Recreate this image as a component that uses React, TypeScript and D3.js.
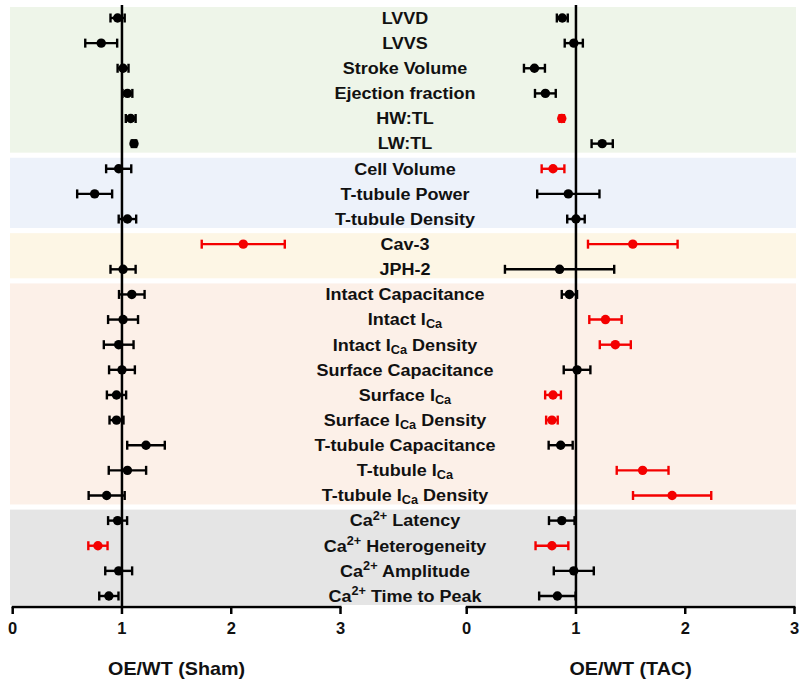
import React from "react";
import * as d3 from "d3";

const labels = [
  "LVVD", "LVVS", "Stroke Volume", "Ejection fraction", "HW:TL", "LW:TL",
  "Cell Volume", "T-tubule Power", "T-tubule Density",
  "Cav-3", "JPH-2",
  "Intact Capacitance", "Intact I_{Ca}", "Intact I_{Ca} Density", "Surface Capacitance",
  "Surface I_{Ca}", "Surface I_{Ca} Density", "T-tubule Capacitance", "T-tubule I_{Ca}", "T-tubule I_{Ca} Density",
  "Ca^{2+} Latency", "Ca^{2+} Heterogeneity", "Ca^{2+} Amplitude", "Ca^{2+} Time to Peak",
];

const shamMean = [0.96, 0.81, 1.01, 1.05, 1.08, 1.11, 0.97, 0.75, 1.05, 2.11, 1.01,
  1.09, 1.01, 0.97, 1.0, 0.95, 0.95, 1.22, 1.05, 0.86, 0.96, 0.78, 0.97, 0.88];
const shamErr = [0.065, 0.146, 0.05, 0.045, 0.045, 0.02, 0.115, 0.16, 0.08, 0.38, 0.115,
  0.117, 0.137, 0.136, 0.118, 0.088, 0.064, 0.172, 0.171, 0.165, 0.087, 0.088, 0.123, 0.088];
const shamSig = [0, 0, 0, 0, 0, 0, 0, 0, 0, 1, 0, 0, 0, 0, 0, 0, 0, 0, 0, 0, 0, 1, 0, 0];

const tacMean = [0.875, 0.98, 0.62, 0.72, 0.87, 1.24, 0.79, 0.93, 1.0, 1.52, 0.85,
  0.94, 1.27, 1.36, 1.01, 0.79, 0.78, 0.86, 1.61, 1.88, 0.87, 0.78, 0.98, 0.83];
const tacErr = [0.05, 0.083, 0.096, 0.095, 0.02, 0.097, 0.104, 0.285, 0.08, 0.41, 0.5,
  0.07, 0.148, 0.142, 0.122, 0.072, 0.053, 0.11, 0.237, 0.358, 0.117, 0.15, 0.183, 0.167];
const tacSig = [0, 0, 0, 0, 1, 0, 1, 0, 0, 1, 0, 0, 1, 1, 0, 1, 1, 0, 1, 1, 0, 1, 0, 0];

const bandStart = [0, 6, 9, 11, 20];
const bandEnd = [5, 8, 10, 19, 23];
const bandColors = ["#eef5e9", "#edf2fa", "#fdf6e5", "#fcf0e8", "#e5e5e5"];

const xTicks = [0, 1, 2, 3];
const panelTitles = ["OE/WT (Sham)", "OE/WT (TAC)"];

const FONT = "'Liberation Sans', Arial, Helvetica, sans-serif";

function Label({ text, x, y }: { text: string; x: number; y: number }) {
  const parts: { t: string; k: string }[] = [];
  const re = /(_|\^)\{([^}]*)\}/g;
  let last = 0;
  let m;
  while ((m = re.exec(text)) !== null) {
    if (m.index > last) parts.push({ t: text.slice(last, m.index), k: "n" });
    parts.push({ t: m[2], k: m[1] === "_" ? "sub" : "sup" });
    last = m.index + m[0].length;
  }
  if (last < text.length) parts.push({ t: text.slice(last), k: "n" });
  let prev = "n";
  const spans = parts.map((p, i) => {
    let dy = 0;
    if (p.k === "sub") dy = 5;
    else if (p.k === "sup") dy = -5;
    if (prev === "sub") dy -= 5;
    if (prev === "sup") dy += 5;
    prev = p.k;
    return (
      <tspan key={i} dy={dy} fontSize={p.k === "n" ? 17 : 12}>
        {p.t}
      </tspan>
    );
  });
  return (
    <g transform={`translate(${x},${y}) scale(1.06,1)`}>
      <text x={0} y={0} textAnchor="middle" fontFamily={FONT} fontWeight="bold" fontSize={17} fill="#111" dominantBaseline="central">
        {spans}
      </text>
    </g>
  );
}

export default function App() {
  const W = 800, H = 682;
  const y = d3.scalePoint<number>().domain(d3.range(labels.length)).range([18, 596]);
  const xL = d3.scaleLinear().domain([0, 3]).range([12.7, 340.5]);
  const xR = d3.scaleLinear().domain([0, 3]).range([466.7, 794.5]);
  const axisY = 607;

  const panel = (x: d3.ScaleLinear<number, number>, mean: number[], err: number[], sig: number[], title: string, key: string) => (
    <g key={key}>
      <line x1={x(1)} x2={x(1)} y1={5} y2={axisY} stroke="#000" strokeWidth={2.5} />
      {mean.map((v, i) => {
        const c = sig[i] ? "#f40000" : "#000";
        const yy = y(i)!;
        const lo = x(v - err[i]), hi = x(v + err[i]);
        return (
          <g key={i}>
            <line x1={lo} x2={hi} y1={yy} y2={yy} stroke={c} strokeWidth={2.4} />
            <line x1={lo} x2={lo} y1={yy - 4.5} y2={yy + 4.5} stroke={c} strokeWidth={2.4} />
            <line x1={hi} x2={hi} y1={yy - 4.5} y2={yy + 4.5} stroke={c} strokeWidth={2.4} />
            <circle cx={x(v)} cy={yy} r={4.7} fill={c} />
          </g>
        );
      })}
      <line x1={x(0) - 1} x2={x(3) + 1} y1={axisY} y2={axisY} stroke="#000" strokeWidth={2.5} />
      {xTicks.map((t) => (
        <g key={t}>
          <line x1={x(t)} x2={x(t)} y1={axisY} y2={axisY + 7} stroke="#000" strokeWidth={2.5} />
          <text x={x(t)} y={634} textAnchor="middle" fontFamily={FONT} fontWeight="bold" fontSize={16.5} fill="#111">
            {t}
          </text>
        </g>
      ))}
      <g transform={`translate(${(x(0) + x(3)) / 2},675) scale(1.05,1)`}>
        <text x={0} y={0} textAnchor="middle" fontFamily={FONT} fontWeight="bold" fontSize={18.8} fill="#111">
          {title}
        </text>
      </g>
    </g>
  );

  return (
    <svg width={W} height={H} style={{ position: "absolute", left: 0, top: 0, display: "block" }}>
      <rect width={W} height={H} fill="#fff" />
      {bandStart.map((s, i) => (
        <rect key={i} x={10} width={786} y={y(s)! - 11} height={y(bandEnd[i])! - y(s)! + 20} fill={bandColors[i]} />
      ))}
      {labels.map((l, i) => (
        <Label key={i} text={l} x={405} y={y(i)!} />
      ))}
      {panel(xL, shamMean, shamErr, shamSig, panelTitles[0], "L")}
      {panel(xR, tacMean, tacErr, tacSig, panelTitles[1], "R")}
    </svg>
  );
}
